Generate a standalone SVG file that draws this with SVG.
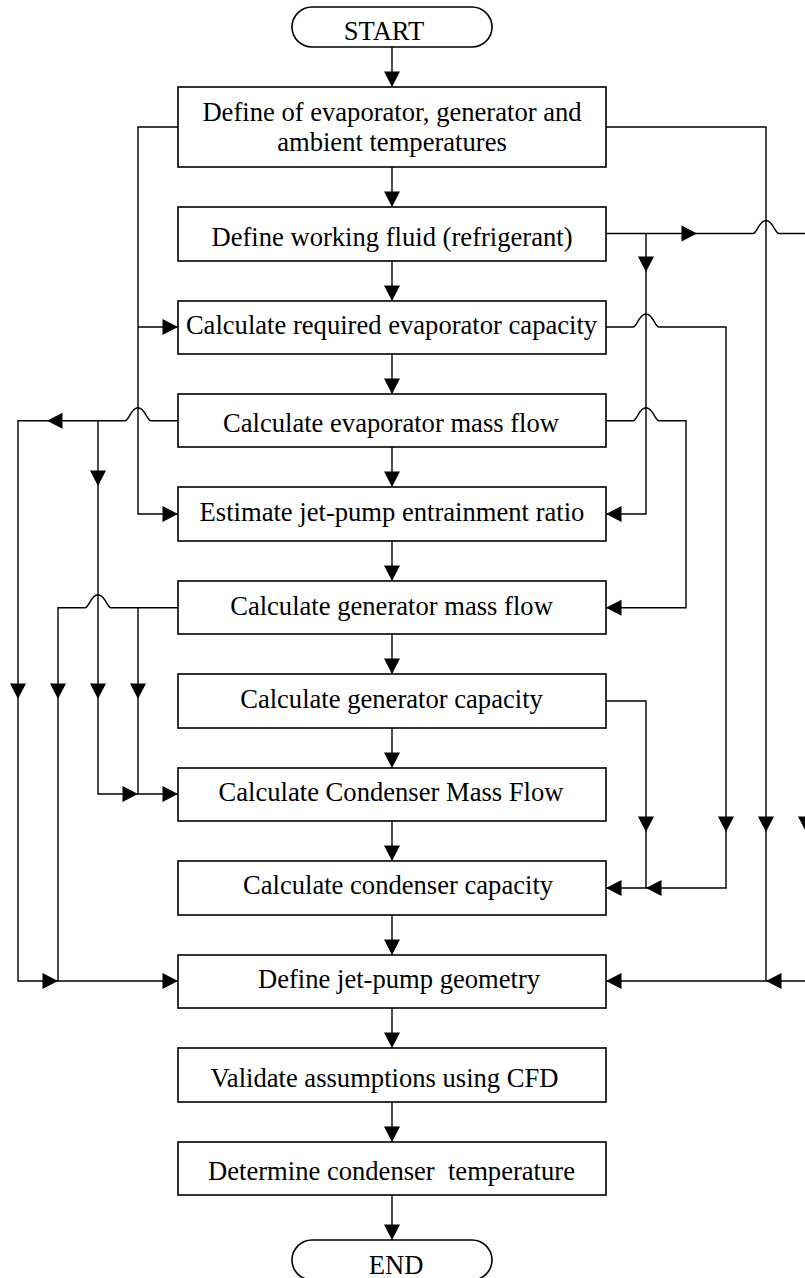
<svg xmlns="http://www.w3.org/2000/svg" xmlns:xlink="http://www.w3.org/1999/xlink" width="805" height="1278" viewBox="0 0 805 1278">
<style>
.box{fill:#fff;stroke:#000;stroke-width:1.6}
.ln{fill:none;stroke:#000;stroke-width:1.4}
.t{font-family:"Liberation Serif","Times New Roman",serif;font-size:26.6px;fill:#000;white-space:pre}
.m{text-anchor:middle}
</style>
<defs>
<polygon id="ah" points="-8,-15.5 8,-15.5 0,0" fill="#000"/>
</defs>
<rect width="805" height="1278" fill="#fff"/>
<g id="connectors">
<!-- main chain -->
<path class="ln" d="M392 47V87M392 167V207M392 261V301M392 354V394M392 447V487M392 541V581M392 634V674M392 728V768M392 821V861M392 915V955M392 1008V1048M392 1102V1142M392 1195V1240"/>
<!-- box1 left feed -->
<path class="ln" d="M178 127H138V514H178M138 327H178"/>
<!-- box1 right feed -->
<path class="ln" d="M606 127H766V981"/>
<!-- box2 right -->
<path class="ln" d="M606 233.5H753C757 233.5 759 220.5 766 220.5C773 220.5 775 233.5 779 233.5H806V981"/>
<path class="ln" d="M646 233.5V514H606"/>
<!-- box3 right -->
<path class="ln" d="M606 327H633C637 327 639 314 646 314C653 314 655 327 659 327H726V888H606"/>
<!-- box4 right -->
<path class="ln" d="M606 420.7H633C637 420.7 639 407.7 646 407.7C653 407.7 655 420.7 659 420.7H686V607.7H606"/>
<!-- box4 left -->
<path class="ln" d="M178 420.7H151C147 420.7 145 407.7 138 407.7C131 407.7 129 420.7 125 420.7H18V981H178"/>
<path class="ln" d="M98 420.7V794H178"/>
<!-- box6 left -->
<path class="ln" d="M178 607.7H111C107 607.7 105 594.7 98 594.7C91 594.7 89 607.7 85 607.7H58V981"/>
<path class="ln" d="M138 607.7V794"/>
<!-- box7 right -->
<path class="ln" d="M606 701H646V888"/>
<!-- jet-pump right -->
<path class="ln" d="M806 981H606"/>
<!-- arrowheads -->
<g>
<use xlink:href="#ah" x="392" y="87"/>
<use xlink:href="#ah" x="392" y="207"/>
<use xlink:href="#ah" x="392" y="301"/>
<use xlink:href="#ah" x="392" y="394"/>
<use xlink:href="#ah" x="392" y="487"/>
<use xlink:href="#ah" x="392" y="581"/>
<use xlink:href="#ah" x="392" y="674"/>
<use xlink:href="#ah" x="392" y="768"/>
<use xlink:href="#ah" x="392" y="861"/>
<use xlink:href="#ah" x="392" y="955"/>
<use xlink:href="#ah" x="392" y="1048"/>
<use xlink:href="#ah" x="392" y="1142"/>
<use xlink:href="#ah" x="392" y="1240"/>
<use xlink:href="#ah" x="646" y="272"/>
<use xlink:href="#ah" x="98" y="486"/>
<use xlink:href="#ah" x="18" y="699"/>
<use xlink:href="#ah" x="58" y="699"/>
<use xlink:href="#ah" x="98" y="699"/>
<use xlink:href="#ah" x="138" y="699"/>
<use xlink:href="#ah" x="646" y="832"/>
<use xlink:href="#ah" x="726" y="832"/>
<use xlink:href="#ah" x="766" y="832"/>
<use xlink:href="#ah" x="806" y="832"/>
<use xlink:href="#ah" transform="translate(178 327) rotate(-90)"/>
<use xlink:href="#ah" transform="translate(178 514) rotate(-90)"/>
<use xlink:href="#ah" transform="translate(138 794) rotate(-90)"/>
<use xlink:href="#ah" transform="translate(178 794) rotate(-90)"/>
<use xlink:href="#ah" transform="translate(58 981) rotate(-90)"/>
<use xlink:href="#ah" transform="translate(178 981) rotate(-90)"/>
<use xlink:href="#ah" transform="translate(697 233.5) rotate(-90)"/>
<use xlink:href="#ah" transform="translate(47 420.7) rotate(90)"/>
<use xlink:href="#ah" transform="translate(606 514) rotate(90)"/>
<use xlink:href="#ah" transform="translate(606 607.7) rotate(90)"/>
<use xlink:href="#ah" transform="translate(606 888) rotate(90)"/>
<use xlink:href="#ah" transform="translate(646 888) rotate(90)"/>
<use xlink:href="#ah" transform="translate(606 981) rotate(90)"/>
<use xlink:href="#ah" transform="translate(766 981) rotate(90)"/>
</g>
</g>
<g id="start"><rect class="box" x="292" y="7" width="200" height="40" rx="20"/><text class="t m" x="384" y="40">START</text></g>
<g id="n1"><rect class="box" x="178" y="87" width="428" height="80"/><text class="t m" x="392" y="121">Define of evaporator, generator and</text><text class="t m" x="392" y="151">ambient temperatures</text></g>
<g id="n2"><rect class="box" x="178" y="207" width="428" height="54"/><text class="t m" x="392" y="246">Define working fluid (refrigerant)</text></g>
<g id="n3"><rect class="box" x="178" y="301" width="428" height="53"/><text class="t m" x="391.5" y="334">Calculate required evaporator capacity</text></g>
<g id="n4"><rect class="box" x="178" y="394" width="428" height="53"/><text class="t m" x="391" y="431.5">Calculate evaporator mass flow</text></g>
<g id="n5"><rect class="box" x="178" y="487" width="428" height="54"/><text class="t m" x="392" y="520.5">Estimate jet-pump entrainment ratio</text></g>
<g id="n6"><rect class="box" x="178" y="581" width="428" height="53"/><text class="t m" x="391.5" y="614.5">Calculate generator mass flow</text></g>
<g id="n7"><rect class="box" x="178" y="674" width="428" height="54"/><text class="t m" x="391.5" y="707.5">Calculate generator capacity</text></g>
<g id="n8"><rect class="box" x="178" y="768" width="428" height="53"/><text class="t m" x="391" y="800.7">Calculate Condenser Mass Flow</text></g>
<g id="n9"><rect class="box" x="178" y="861" width="428" height="54"/><text class="t" x="243" y="893.5">Calculate condenser capacity</text></g>
<g id="n10"><rect class="box" x="178" y="955" width="428" height="53"/><text class="t" x="258" y="988">Define jet-pump geometry</text></g>
<g id="n11"><rect class="box" x="178" y="1048" width="428" height="54"/><text class="t" x="210.6" y="1087">Validate assumptions using CFD</text></g>
<g id="n12"><rect class="box" x="178" y="1142" width="428" height="53"/><text class="t" x="208" y="1180">Determine condenser  temperature</text></g>
<g id="end"><rect class="box" x="292" y="1240" width="200" height="40" rx="20"/><text class="t" x="368.8" y="1274">END</text></g>
</svg>
